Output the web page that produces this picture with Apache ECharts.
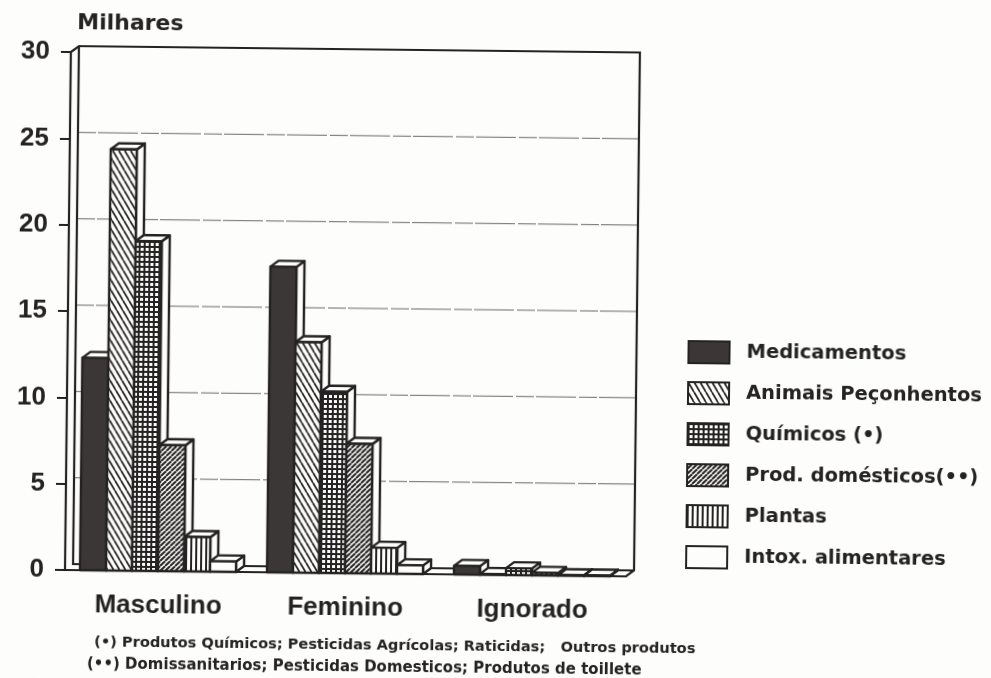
<!DOCTYPE html>
<html>
<head>
<meta charset="utf-8">
<script src="https://cdn.jsdelivr.net/npm/echarts@6/dist/echarts.min.js"></script>
<style>
html, body { margin: 0; padding: 0; background: #fdfdfb; overflow: hidden; }
/* the original is a slightly crooked scan */
#chart { width: 991px; height: 678px; transform: rotate(0.65deg); transform-origin: 65px 570px; filter: blur(0.45px); }
</style>
</head>
<body>
<div id="chart"></div>
<script>
var categories = ['Masculino', 'Feminino', 'Ignorado'];
var seriesNames = ['Medicamentos', 'Animais Peçonhentos', 'Químicos (•)', 'Prod. domésticos(••)', 'Plantas', 'Intox. alimentares'];
var medicamentos = [12.3, 17.7, 0.5];
var animais = [24.4, 13.35, 0.05];
var quimicos = [19.1, 10.5, 0.4];
var domesticos = [7.3, 7.5, 0.15];
var plantas = [2, 1.5, 0.03];
var alimentares = [0.6, 0.5, 0.03];
var seriesValues = [medicamentos, animais, quimicos, domesticos, plantas, alimentares];
var yTicks = [0, 5, 10, 15, 20, 25, 30];
var notes = [
	'(•) Produtos Químicos; Pesticidas Agrícolas; Raticidas;   Outros produtos',
	'(••) Domissanitarios; Pesticidas Domesticos; Produtos de toillete'
];

var INK = '#242222';
var DEPTH_X = 8;
var DEPTH_Y = 6;
var BAR_SHARE = 26 / 187; // largura da barra em relação à categoria

function makeTile(w, h, draw) {
	var c = document.createElement('canvas');
	c.width = w;
	c.height = h;
	var ctx = c.getContext('2d');
	ctx.fillStyle = '#fdfdfb';
	ctx.fillRect(0, 0, w, h);
	ctx.strokeStyle = INK;
	ctx.fillStyle = INK;
	draw(ctx);
	return { image: c, repeat: 'repeat' };
}

function diagonal(w, h, width, down) {
	return makeTile(w, h, function(ctx) {
		ctx.lineWidth = width;
		for (var i = -1; i <= 1; i++) {
			ctx.beginPath();
			if (down) {
				ctx.moveTo(i * w, 0);
				ctx.lineTo(i * w + w, h);
			} else {
				ctx.moveTo(i * w, h);
				ctx.lineTo(i * w + w, 0);
			}
			ctx.stroke();
		}
	});
}

var fills = [
	'#3b3736',
	diagonal(6, 10, 1.7, true),
	makeTile(5, 5, function(ctx) {
		ctx.fillRect(0, 0, 5, 2);
		ctx.fillRect(0, 0, 2, 5);
	}),
	diagonal(5, 5, 2, false),
	makeTile(5, 5, function(ctx) {
		ctx.fillRect(0, 0, 2, 5);
	}),
	'#fdfdfb'
];

function renderBar(params, api) {
	var i = api.value(0);
	var base = api.coord([i, 0]);
	var top = api.coord([i, api.value(1)]);
	var w = api.size([1, 0])[0] * BAR_SHARE;
	var x0 = base[0] + (params.seriesIndex - 1 - 3) * w - 0.5;
	var x1 = x0 + w;
	var yT = top[1];
	var yB = base[1];
	var line = { stroke: INK, lineWidth: 2.4, lineJoin: 'round' };
	function poly(points, fill) {
		return { type: 'polygon', shape: { points: points }, style: Object.assign({ fill: fill }, line) };
	}
	return {
		type: 'group',
		children: [
			poly([ [x1, yB], [x1 + DEPTH_X, yB - DEPTH_Y], [x1 + DEPTH_X, yT - DEPTH_Y], [x1, yT] ], '#fdfdfb'),
			poly([ [x0, yT], [x0 + DEPTH_X, yT - DEPTH_Y], [x1 + DEPTH_X, yT - DEPTH_Y], [x1, yT] ], '#fdfdfb'),
			poly([ [x0, yB], [x0, yT], [x1, yT], [x1, yB] ], fills[params.seriesIndex - 1])
		]
	};
}

// paredes do gráfico, atrás das barras
function renderFrame(params, api) {
	var last = categories.length - 1;
	var half = api.size([1, 0])[0] / 2;
	var bl = api.coord([0, 0]);
	var tl = api.coord([0, 30]);
	var br = api.coord([last, 0]);
	var left = bl[0] - half;
	var right = br[0] + half;
	var bottom = bl[1];
	var top = tl[1];
	var children = [];
	yTicks.forEach(function(t) {
		if (t === 0 || t === 30) {
			return;
		}
		var y = api.coord([0, t])[1] - DEPTH_Y;
		children.push({
			type: 'line',
			shape: { x1: left + DEPTH_X, y1: y, x2: right + DEPTH_X, y2: y },
			style: { stroke: '#6e6a66', lineWidth: 1, lineDash: [18, 2, 40, 3] }
		});
	});
	var style = { fill: 'none', stroke: INK, lineWidth: 2.2 };
	children.push({
		type: 'polygon',
		shape: { points: [ [left, top], [left + DEPTH_X, top - DEPTH_Y], [right + DEPTH_X, top - DEPTH_Y], [right + DEPTH_X, bottom - DEPTH_Y], [right, bottom], [left, bottom] ] },
		style: style
	});
	children.push({
		type: 'polyline',
		shape: { points: [ [left + DEPTH_X, top - DEPTH_Y], [left + DEPTH_X, bottom - DEPTH_Y], [right + DEPTH_X, bottom - DEPTH_Y] ] },
		style: style
	});
	return { type: 'group', children: children };
}

var series = [
	{
		type: 'custom',
		name: 'frame',
		silent: true,
		renderItem: renderFrame,
		data: [[0, 0]],
		z: 1
	}
];
seriesNames.forEach(function(name, s) {
	series.push({
		type: 'custom',
		name: name,
		renderItem: renderBar,
		encode: { x: 0, y: 1 },
		itemStyle: { color: fills[s], borderColor: INK, borderWidth: 2 },
		data: seriesValues[s].map(function(v, i) {
			return [i, v];
		}),
		z: 2
	});
});

var chart = echarts.init(document.getElementById('chart'));
chart.setOption({
	animation: false,
	backgroundColor: '#fdfdfb',
	textStyle: { fontFamily: 'Liberation Sans', color: INK },
	grid: { left: 65, right: 365, top: 52, bottom: 108 },
	legend: {
		data: seriesNames,
		icon: 'rect',
		orient: 'vertical',
		left: 680,
		top: 328,
		itemWidth: 41,
		itemHeight: 22,
		itemGap: 17,
		selectedMode: false,
		textStyle: { fontFamily: 'DejaVu Sans', fontWeight: 'bold', fontSize: 19.5, color: INK, padding: [0, 0, 0, 12] }
	},
	xAxis: {
		type: 'category',
		data: categories,
		axisLine: { lineStyle: { color: INK, width: 2 } },
		axisTick: { alignWithLabel: true, length: 10, lineStyle: { color: INK, width: 2 } },
		axisLabel: { fontSize: 26, fontWeight: 'bold', color: INK, margin: 22 }
	},
	yAxis: {
		type: 'value',
		min: 0,
		max: 30,
		interval: 5,
		name: 'Milhares',
		nameLocation: 'end',
		nameGap: 18,
		nameTextStyle: { fontFamily: 'DejaVu Sans', fontSize: 22, fontWeight: 'bold', color: INK, align: 'left', padding: [0, 0, 0, 6] },
		axisLine: { show: true, lineStyle: { color: INK, width: 2 } },
		axisTick: { show: true, length: 10, lineStyle: { color: INK, width: 2 } },
		axisLabel: { fontSize: 26, fontWeight: 'bold', color: INK, margin: 21, padding: [6, 0, 0, 0] },
		splitLine: { show: false }
	},
	graphic: notes.map(function(text, i) {
		return {
			type: 'text',
			left: i === 0 ? 95 : 88,
			top: i === 0 ? 635 : 657,
			style: { text: text, fontFamily: 'DejaVu Sans', fontWeight: 'bold', fontSize: i === 0 ? 14.6 : 15, fill: INK }
		};
	}),
	series: series
});
</script>
</body>
</html>
